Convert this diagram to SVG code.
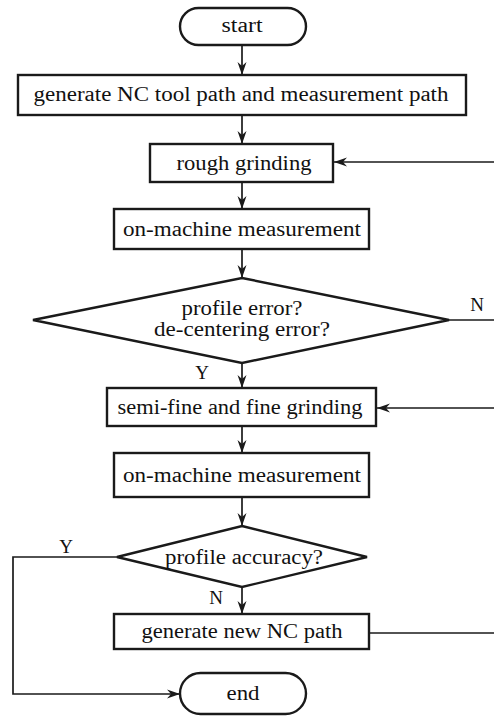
<svg xmlns="http://www.w3.org/2000/svg" width="494" height="716" viewBox="0 0 494 716">
  <style>
    .box { fill: #fff; stroke: #1a1a1a; stroke-width: 2.4; }
    .lbl { font-family: "Liberation Serif", "Times New Roman", serif; font-size: 20px; fill: #111; text-anchor: middle; }
    .yn { font-family: "Liberation Serif", "Times New Roman", serif; font-size: 19px; fill: #111; text-anchor: middle; }
    .wire { fill: none; stroke: #1a1a1a; stroke-width: 1.7; }
  </style>
  <defs>
    <marker id="arr" markerWidth="14" markerHeight="10" refX="13" refY="5" orient="auto" markerUnits="userSpaceOnUse">
      <path d="M0,0.5 L13,5 L0,9.5 L4,5 Z" fill="#1a1a1a"/>
    </marker>
  </defs>

  <g id="connectors">
    <line class="wire" x1="242" y1="45" x2="242" y2="75" marker-end="url(#arr)"/>
    <line class="wire" x1="242" y1="115" x2="242" y2="144" marker-end="url(#arr)"/>
    <line class="wire" x1="494" y1="162" x2="334" y2="162" marker-end="url(#arr)"/>
    <line class="wire" x1="242" y1="182" x2="242" y2="209" marker-end="url(#arr)"/>
    <line class="wire" x1="242" y1="249" x2="242" y2="278" marker-end="url(#arr)"/>
    <line class="wire" x1="449" y1="320" x2="494" y2="320"/>
    <line class="wire" x1="242" y1="363" x2="242" y2="388" marker-end="url(#arr)"/>
    <line class="wire" x1="494" y1="408" x2="377" y2="408" marker-end="url(#arr)"/>
    <line class="wire" x1="242" y1="426" x2="242" y2="453" marker-end="url(#arr)"/>
    <line class="wire" x1="242" y1="497" x2="242" y2="526" marker-end="url(#arr)"/>
    <line class="wire" x1="242" y1="587" x2="242" y2="614" marker-end="url(#arr)"/>
    <polyline class="wire" points="117,557 13,557 13,694 180,694" marker-end="url(#arr)"/>
    <line class="wire" x1="369" y1="633" x2="494" y2="633"/>
    <text class="yn" x="477" y="311">N</text>
    <text class="yn" x="202" y="379">Y</text>
    <text class="yn" x="66" y="553">Y</text>
    <text class="yn" x="216" y="604">N</text>
  </g>

  <g id="start">
    <rect class="box" x="180" y="8" width="126" height="37" rx="18.5"/>
    <text class="lbl" x="242" y="32" textLength="41" lengthAdjust="spacingAndGlyphs">start</text>
  </g>
  <g id="generate-paths">
    <rect class="box" x="18" y="75" width="448" height="40"/>
    <text class="lbl" x="241" y="101" textLength="415" lengthAdjust="spacingAndGlyphs">generate NC tool path and measurement path</text>
  </g>
  <g id="rough-grinding">
    <rect class="box" x="150" y="144" width="183" height="38"/>
    <text class="lbl" x="244" y="170" textLength="135" lengthAdjust="spacingAndGlyphs">rough grinding</text>
  </g>
  <g id="measure-1">
    <rect class="box" x="114" y="209" width="255" height="40"/>
    <text class="lbl" x="242" y="236" textLength="238" lengthAdjust="spacingAndGlyphs">on-machine measurement</text>
  </g>
  <g id="error-check">
    <polygon class="box" points="242,278 449,320 242,363 33,320"/>
    <text class="lbl" x="242" y="315" textLength="121" lengthAdjust="spacingAndGlyphs">profile error?</text>
    <text class="lbl" x="242" y="336" textLength="176" lengthAdjust="spacingAndGlyphs">de-centering error?</text>
  </g>
  <g id="fine-grinding">
    <rect class="box" x="107" y="388" width="269" height="38"/>
    <text class="lbl" x="240" y="414" textLength="245" lengthAdjust="spacingAndGlyphs">semi-fine and fine grinding</text>
  </g>
  <g id="measure-2">
    <rect class="box" x="114" y="453" width="255" height="44"/>
    <text class="lbl" x="242" y="482" textLength="238" lengthAdjust="spacingAndGlyphs">on-machine measurement</text>
  </g>
  <g id="accuracy-check">
    <polygon class="box" points="242,526 367,557 242,587 117,557"/>
    <text class="lbl" x="244" y="564" textLength="158" lengthAdjust="spacingAndGlyphs">profile accuracy?</text>
  </g>
  <g id="new-path">
    <rect class="box" x="114" y="614" width="255" height="35"/>
    <text class="lbl" x="242" y="638" textLength="201" lengthAdjust="spacingAndGlyphs">generate new NC path</text>
  </g>
  <g id="end">
    <rect class="box" x="180" y="673" width="126" height="41" rx="20.5"/>
    <text class="lbl" x="243" y="700" textLength="33" lengthAdjust="spacingAndGlyphs">end</text>
  </g>
</svg>
